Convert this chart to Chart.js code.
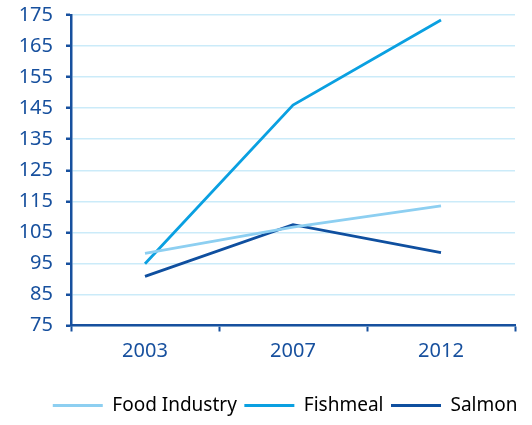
<!DOCTYPE html>
<html>
<head>
<meta charset="utf-8">
<script src="https://cdn.jsdelivr.net/npm/chart.js@4"></script>
<style>
html,body{margin:0;padding:0;background:#fff}
#wrap{width:532px;height:425px}
</style>
</head>
<body>
<div id="wrap"><canvas id="lineChart" width="532" height="425"></canvas></div>
<script>

const years = ["2003","2007","2012"]

const foodIndustry = [98.2, 106.7, 113.5]
const fishmeal = [94.9, 146, 173.4]
const salmon = [90.8, 107.5, 98.5]

const yMin = 75
const yMax = 175
const yStep = 10

const darkBlue = "#17509e"

Chart.defaults.font.family = "'Noto Sans', sans-serif"
Chart.defaults.font.size = 20
Chart.defaults.color = darkBlue

const ctx = document.getElementById("lineChart")

new Chart(ctx,{
type:"line",

data:{
labels:years,
datasets:[
{
label:"Food Industry",
data:foodIndustry,
borderColor:"#8dcff1",
backgroundColor:"#8dcff1",
borderWidth:2.8,
pointRadius:0,
tension:0
},
{
label:"Fishmeal",
data:fishmeal,
borderColor:"#0aa0e1",
backgroundColor:"#0aa0e1",
borderWidth:2.8,
pointRadius:0,
tension:0
},
{
label:"Salmon",
data:salmon,
borderColor:"#0f4f9f",
backgroundColor:"#0f4f9f",
borderWidth:2.8,
pointRadius:0,
tension:0
}
]
},

options:{
responsive:false,
animation:false,
layout:{
padding:{top:15,right:7,left:0,bottom:0}
},
plugins:{
tooltip:{enabled:false},
legend:{
position:"bottom",
align:"end",
labels:{
boxWidth:50,
boxHeight:3,
padding:7.5,
font:{size:19},
generateLabels(chart){
return chart.data.datasets.map((d,i)=>({
text:d.label,
fillStyle:d.borderColor,
strokeStyle:d.borderColor,
lineWidth:0,
datasetIndex:i
}))
}
}
}
},
scales:{
x:{
offset:true,
grid:{
offset:true,
drawOnChartArea:false,
drawTicks:true,
tickLength:6,
tickColor:darkBlue,
tickWidth:2
},
border:{color:darkBlue,width:2.5},
ticks:{padding:8},
afterFit(scale){ scale.height = 63 }
},
y:{
min:yMin,
max:yMax,
ticks:{stepSize:yStep,padding:13},
grid:{
color:"#cbebf9",
lineWidth:1.5,
tickLength:5,
tickColor:darkBlue,
tickWidth:2.5
},
border:{color:darkBlue,width:2.5},
afterFit(scale){
scale.width = 71
scale.paddingTop = 0
scale.paddingBottom = 0
}
},
// empty spacer on the right so the plot ends before the legend does
spacer:{
type:"linear",
position:"right",
min:yMin,
max:yMax,
grid:{display:false},
border:{display:false},
ticks:{display:false},
afterFit(scale){
scale.width = 10
scale.paddingTop = 0
scale.paddingBottom = 0
}
}
}
}

})

</script>
</body>
</html>
